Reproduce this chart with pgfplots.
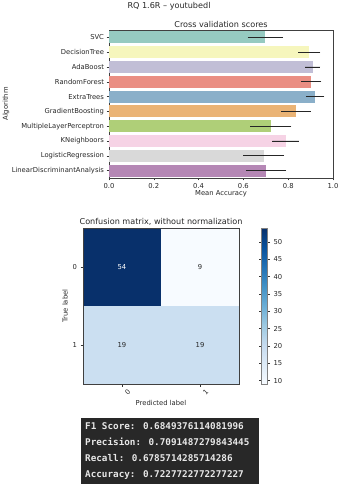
\documentclass[border=0pt]{standalone}
\usepackage{fontspec}
\setmainfont{DejaVu Sans}
\newfontfamily\monofont{DejaVu Sans Mono}
\usepackage{pgfplots}
\pgfplotsset{compat=1.18}

% Set3 palette, desaturated as seaborn does for bar plots
\definecolor{cSVC}{RGB}{150,202,193}
\definecolor{cDT}{RGB}{246,246,189}
\definecolor{cAda}{RGB}{193,190,214}
\definecolor{cRF}{RGB}{234,142,131}
\definecolor{cET}{RGB}{138,175,201}
\definecolor{cGB}{RGB}{234,179,117}
\definecolor{cMLP}{RGB}{175,207,120}
\definecolor{cKN}{RGB}{246,211,229}
\definecolor{cLR}{RGB}{217,217,217}
\definecolor{cLDA}{RGB}{181,135,181}
\definecolor{termbg}{HTML}{282828}
\definecolor{termfg}{HTML}{E8E8E8}

\newcommand{\tickfont}{\fontsize{6.8}{8}\selectfont}
\newcommand{\titlefont}{\fontsize{8.1}{9.5}\selectfont}

\pgfplotsset{
  cvbar/.style={
    fill=#1, draw=none,
    error bars/x dir=both, error bars/x explicit,
    error bars/error mark=none,
    error bars/error bar style={line width=0.9pt, black!85},
  },
}

\begin{document}
\begin{tikzpicture}[x=1pt,y=1pt]
\useasboundingbox (0,0) rectangle (344,484);

\node[font=\titlefont, text=black!85] at (169,477.5) {RQ 1.6R – youtubedl};

% Cross validation scores
\begin{axis}[
  at={(109pt,306pt)}, anchor=south west,
  width=224pt, height=148pt, scale only axis,
  xbar, bar width=0.8, bar shift=0pt,
  xmin=0, xmax=1, ymin=-0.5, ymax=9.5, y dir=reverse,
  ytick={0,...,9},
  yticklabels={SVC,DecisionTree,AdaBoost,RandomForest,ExtraTrees,GradientBoosting,MultipleLayerPerceptron,KNeighboors,LogisticRegression,LinearDiscriminantAnalysis},
  xtick={0,0.2,0.4,0.6,0.8,1}, xticklabels={0.0,0.2,0.4,0.6,0.8,1.0},
  tick align=outside, tick pos=left, major tick length=2.5pt,
  tick style={black!80, line width=0.5pt},
  axis line style={black!75, line width=0.5pt},
  ticklabel style={font=\tickfont, text=black!85},
  yticklabel style={xshift=1pt},
  xticklabel style={yshift=1pt},
  title={Cross validation scores}, title style={font=\titlefont, text=black!85, yshift=-7pt},
  xlabel={Mean Accuracy}, ylabel={Algorithm},
  label style={font=\tickfont, text=black!85},
  xlabel style={yshift=4pt}, ylabel style={yshift=-4.5pt},
  /pgf/number format/assume math mode=true,
]
\addplot[cvbar=cSVC] coordinates {(0.698,0) +- (0.079,0)};
\addplot[cvbar=cDT]  coordinates {(0.894,1) +- (0.050,0)};
\addplot[cvbar=cAda] coordinates {(0.909,2) +- (0.034,0)};
\addplot[cvbar=cRF]  coordinates {(0.903,3) +- (0.045,0)};
\addplot[cvbar=cET]  coordinates {(0.921,4) +- (0.041,0)};
\addplot[cvbar=cGB]  coordinates {(0.834,5) +- (0.066,0)};
\addplot[cvbar=cMLP] coordinates {(0.722,6) +- (0.092,0)};
\addplot[cvbar=cKN]  coordinates {(0.789,7) +- (0.060,0)};
\addplot[cvbar=cLR]  coordinates {(0.691,8) +- (0.091,0)};
\addplot[cvbar=cLDA] coordinates {(0.701,9) +- (0.090,0)};
\end{axis}

% Confusion matrix
\begin{axis}[
  at={(83pt,100pt)}, anchor=south west,
  width=156pt, height=156pt, scale only axis,
  xmin=-0.5, xmax=1.5, ymin=-0.5, ymax=1.5, y dir=reverse,
  enlargelimits=false, axis on top,
  xtick={0,1}, ytick={0,1},
  tick align=outside, tick pos=left, major tick length=2.5pt,
  tick style={black!80, line width=0.5pt},
  axis line style={black!75, line width=0.5pt},
  ticklabel style={font=\tickfont, text=black!85},
  xticklabel style={rotate=45, anchor=center, yshift=-8pt},
  title={Confusion matrix, without normalization}, title style={font=\titlefont, text=black!85, yshift=-7pt},
  xlabel={Predicted label}, ylabel={True label},
  label style={font=\tickfont, text=black!85},
  xlabel style={yshift=3pt}, ylabel style={yshift=-2pt},
  /pgf/number format/assume math mode=true,
  colormap={blues}{rgb255=(247,251,255) rgb255=(222,235,247) rgb255=(198,219,239) rgb255=(158,202,225) rgb255=(107,174,214) rgb255=(66,146,198) rgb255=(33,113,181) rgb255=(8,81,156) rgb255=(8,48,107)},
  point meta min=9, point meta max=54,
  colorbar,
  colorbar style={
    at={(parent axis.north east)}, anchor=north west, xshift=14pt,
    width=6pt,
    ytick={10,15,20,25,30,35,40,45,50},
    tick align=outside, major tick length=2.5pt,
    tick style={black!80, line width=0.5pt},
    axis line style={black!50, line width=0.5pt},
    yticklabel style={font=\tickfont, text=black!85},
    /pgf/number format/assume math mode=true,
  },
]
\addplot[matrix plot*, mesh/cols=2, point meta=explicit] coordinates {
  (0,0) [54] (1,0) [9]
  (0,1) [19] (1,1) [19]
};
\addplot[draw=none, mark=none, nodes near coords, point meta=explicit symbolic,
  nodes near coords style={anchor=center, font=\tickfont, text=white}]
  coordinates {(0,0) [54]};
\addplot[draw=none, mark=none, nodes near coords, point meta=explicit symbolic,
  nodes near coords style={anchor=center, font=\tickfont, text=black!85}]
  coordinates {(1,0) [9] (0,1) [19] (1,1) [19]};
\end{axis}

% Printed metrics
\fill[termbg] (81,0) rectangle (259,66);
\node[anchor=north west, align=left, inner sep=0pt, text=termfg,
  font=\monofont\bfseries\fontsize{9.3}{16}\selectfont] at (85,61.5)
  {F1 Score: 0.6849376114081996\\
   Precision: 0.7091487279843445\\
   Recall: 0.6785714285714286\\
   Accuracy: 0.7227722772277227};
\end{tikzpicture}
\end{document}
